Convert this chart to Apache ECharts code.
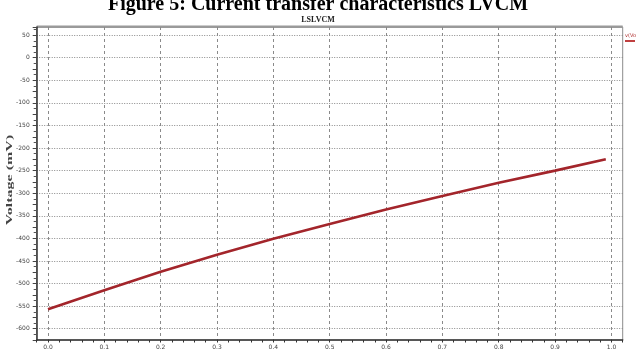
<!DOCTYPE html>
<html>
<head>
<meta charset="utf-8">
<script src="https://cdn.jsdelivr.net/npm/echarts@6/dist/echarts.min.js"></script>
<style>
html,body{margin:0;padding:0;background:#fff;}
#chart{width:636px;height:351px;}
</style>
</head>
<body>
<div id="chart"></div>
<script>
var figureTitle = 'Figure 5: Current transfer characteristics LVCM';
var plotTitle = 'LSLVCM';
var seriesName = 'v(Vo)';
var yAxisName = 'Voltage (mV)';
var xValues = [0.0, 0.1, 0.2, 0.3, 0.4, 0.5, 0.6, 0.7, 0.8, 0.9, 0.99];
var voltage = [-557, -515, -474, -436, -401, -368, -336, -306, -277, -250, -225];
var xTickLabels = ['0.0','0.1','0.2','0.3','0.4','0.5','0.6','0.7','0.8','0.9','1.0'];
var yTickLabels = ['50','0','-50','-100','-150','-200','-250','-300','-350','-400','-450','-500','-550','-600'];

var chart = echarts.init(document.getElementById('chart'), null, {renderer: 'canvas'});
var pts = xValues.map(function (x, i) { return [x, voltage[i]]; });
var T = 'rgba(0,0,0,0)';
var option = {
  animation: false,
  backgroundColor: '#fff',
  grid: {left: 36.7, right: 13.3, top: 27, bottom: 11, containLabel: false, outerBoundsMode: 'none',
         show: true, borderColor: '#8c8c8c', borderWidth: 1, backgroundColor: 'transparent'},
  xAxis: {
    type: 'value', min: -0.02, max: 1.02, interval: 0.02,
    axisLine: {show: true, onZero: false, lineStyle: {color: '#333', width: 1.5}},
    axisTick: {show: true, length: 2.5, lineStyle: {color: '#333'}},
    axisLabel: {
      margin: 4, fontSize: 6, color: '#444', fontFamily: 'DejaVu Sans',
      formatter: function (v) {
        var s = (Math.round(v * 100) / 100).toFixed(1);
        var t = v * 10;
        if (Math.abs(t - Math.round(t)) > 1e-6) return '';
        return xTickLabels.indexOf(s) >= 0 ? s : '';
      }
    },
    splitLine: {show: true, lineStyle: {color: [T, '#8a8a8a', T, T, T], type: [3, 3], width: 1}}
  },
  yAxis: {
    type: 'value', min: -625, max: 68, interval: 25,
    axisLine: {show: true, onZero: false, lineStyle: {color: '#333', width: 1.5}},
    axisTick: {show: true, length: 4, lineStyle: {color: '#444'}},
    minorTick: {show: true, splitNumber: 2, length: 3, lineStyle: {color: '#555'}},
    axisLabel: {
      margin: 7, fontSize: 6, color: '#444', fontFamily: 'DejaVu Sans',
      formatter: function (v) {
        var s = String(Math.round(v));
        return yTickLabels.indexOf(s) >= 0 ? s : '';
      }
    },
    splitLine: {show: true, lineStyle: {color: [T, '#8a8a8a'], type: [1, 1.5], width: 1}}
  },
  series: [{
    type: 'line', name: seriesName, data: pts, showSymbol: false, smooth: false,
    lineStyle: {color: '#a3252b', width: 2.6}, itemStyle: {color: '#a3252b'}
  }],
  graphic: [
    {type: 'text', left: 'center', top: -5, style: {text: figureTitle, font: 'bold 20px "Liberation Serif"', fill: '#000'}},
    {type: 'text', x: 318, y: 20, style: {text: plotTitle, font: 'bold 8px "Liberation Serif"', fill: '#222', align: 'center', verticalAlign: 'middle'}},
    {type: 'text', x: 10, y: 180, rotation: Math.PI / 2, scaleX: 2, scaleY: 1,
     style: {text: yAxisName, font: 'bold 8px "Liberation Serif"', fill: '#444', align: 'center', verticalAlign: 'middle'}},
    {type: 'rect', shape: {x: 36.7, y: 25.5, width: 586, height: 2.5}, style: {fill: '#9a9a9a'}},
    {type: 'text', x: 625, y: 33, style: {text: seriesName, font: '5px "DejaVu Sans"', fill: '#b03030'}},
    {type: 'rect', shape: {x: 625, y: 40, width: 10, height: 2}, style: {fill: '#c04040'}}
  ]
};
chart.setOption(option);
</script>
</body>
</html>
